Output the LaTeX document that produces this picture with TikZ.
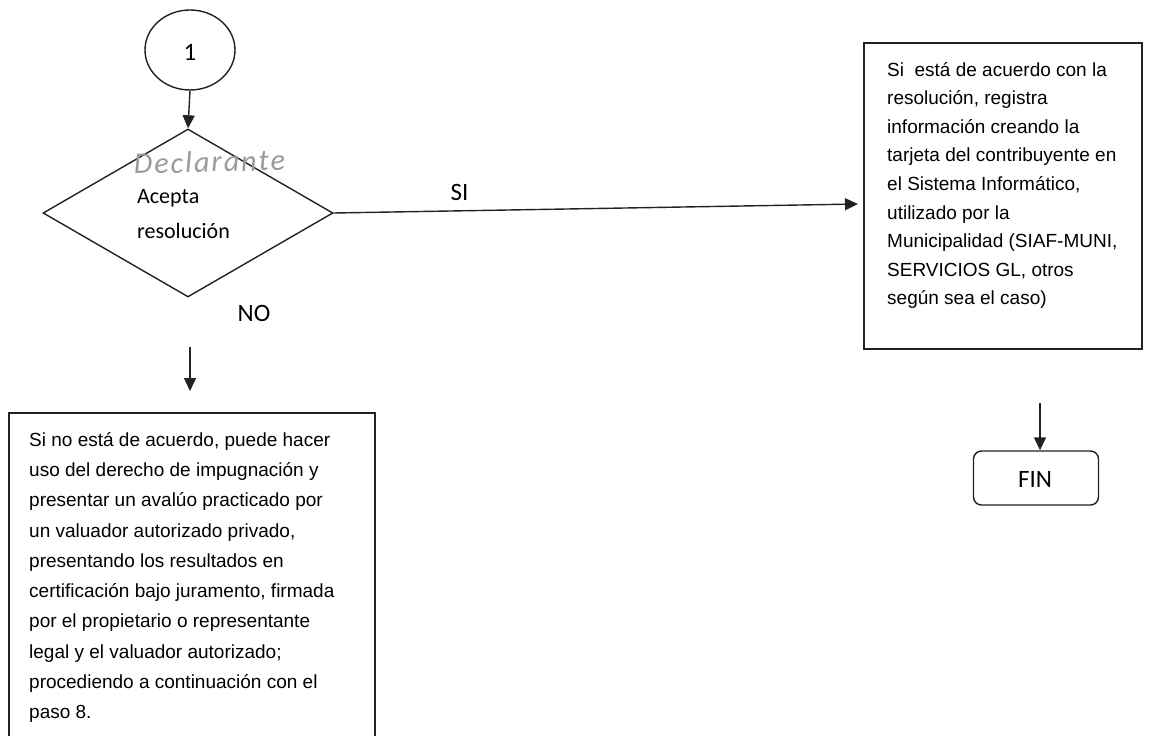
\documentclass[tikz,border=0pt]{standalone}
\usepackage{fontspec}
\setmainfont{Liberation Sans}
\newfontfamily\calfont{Carlito}
\usetikzlibrary{arrows.meta,shapes.geometric}
\definecolor{ink}{HTML}{222222}
\definecolor{pencil}{HTML}{9A9A9A}
\tikzset{
  line/.style={draw=ink, line width=1.4pt},
  flow/.style={line, -{Triangle[width=12pt,length=13pt]}},
  frame/.style={draw=ink, line width=1.2pt, rectangle, inner sep=0pt},
  boxtext/.style={anchor=north west, inner sep=0pt, align=left, text=black},
  lbl/.style={inner sep=0pt, font=\calfont\fontsize{22}{26}\selectfont, text=black},
  biglbl/.style={inner sep=0pt, font=\calfont\fontsize{25}{28}\selectfont, text=black},
}
\newcommand\hk{\kern2pt}
\begin{document}
\begin{tikzpicture}[x=1pt,y=-1pt]
\useasboundingbox (0,0) rectangle (1152,736);
\fill[white] (0,0) rectangle (1152,736);

% connector circle
\node[ellipse, line, minimum width=90pt, minimum height=80pt, inner sep=0pt] (c1) at (190,50) {};
\node[biglbl] (c1t) at (190,52) {1};

% decision diamond
\node[diamond, line, minimum width=290pt, minimum height=168pt, inner sep=0pt] (dec) at (188,213) {};
\node[lbl, anchor=base west] (dect) at (137,203) {Acepta};
\node[lbl, anchor=base west] (dect2) at (137,238) {resolución};
\node[inner sep=0pt, anchor=base west, text=pencil, rotate=1.5, font=\calfont\itshape\fontsize{30}{32}\selectfont] (hand) at (134,174) {D\hk e\hk c\hk l\hk a\hk r\hk a\hk n\hk t\hk e};

\draw[flow] (c1.south) -- (dec.north);

% right box
\node[frame, minimum width=278pt, minimum height=306pt] (rbox) at (1003,196) {};
\node[boxtext, font=\fontsize{19}{28.6}\selectfont] (rtext) at (887,62) {Si\ \ está de acuerdo con la\\resolución, registra\\información creando la\\tarjeta del contribuyente en\\el Sistema Informático,\\utilizado por la\\Municipalidad (SIAF-MUNI,\\SERVICIOS GL, otros\\según sea el caso)};
\coordinate (rboxW) at (858,204);

\draw[flow] (dec.east) -- node[biglbl, above=9pt, pos=0.24] (si) {SI} (rboxW);

% NO branch
\node[biglbl] (no) at (254,313) {NO};
\coordinate (noA) at (190,347);
\coordinate (noB) at (190,391);
\draw[flow] (noA) -- (noB);

% left box
\node[frame, minimum width=366pt, minimum height=332pt] (lbox) at (192,579) {};
\node[boxtext, font=\fontsize{19}{30.3}\selectfont] (ltext) at (29,432) {Si no está de acuerdo, puede hacer\\uso del derecho de impugnación y\\presentar un avalúo practicado por\\un valuador autorizado privado,\\presentando los resultados en\\certificación bajo juramento, firmada\\por el propietario o representante\\legal y el valuador autorizado;\\procediendo a continuación con el\\paso 8.};

% FIN
\node[line, rounded corners=8pt, minimum width=125pt, minimum height=54pt, inner sep=0pt] (fin) at (1036,478) {};
\node[biglbl] (fint) at (1035,479) {FIN};
\coordinate (finA) at (1040,403);
\draw[flow] (finA) -- (finA |- fin.north);
\end{tikzpicture}
\end{document}
